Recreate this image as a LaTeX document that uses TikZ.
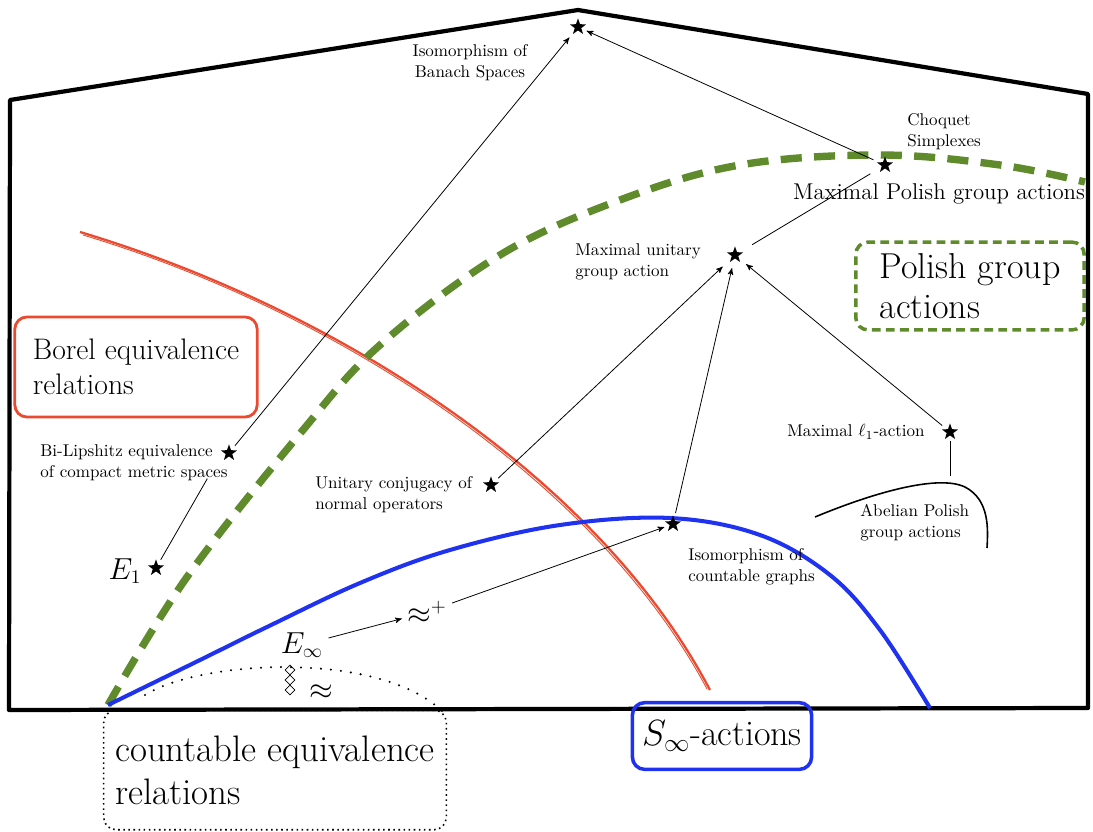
\documentclass[tikz,border=0pt]{standalone}
\usepackage{amsmath}
\usepackage{amsfonts}
\usepackage{amssymb}
\usepackage{tikz}
\usetikzlibrary{arrows,shapes.geometric}

\definecolor{vertpolonais}{RGB}{95,139,44}
\definecolor{rougeborel}{RGB}{234,74,48}
\definecolor{bleuS}{RGB}{30,50,240}

\begin{document}
\begin{tikzpicture}[x=0.02cm, y=-0.02cm,
    etoile/.style={star, star points=5, star point ratio=2.5, fill=black, inner sep=0pt, minimum size=9.8pt},
    texte/.style={font=\fontsize{9.7}{12}\selectfont, align=left, inner sep=0pt},
    formule/.style={font=\fontsize{16}{19}\selectfont, inner sep=0pt},
    boite/.style={rounded corners=7pt, align=left, font=\fontsize{20.5}{22.7}\selectfont},
    fleche/.style={-stealth', line width=0.45pt, shorten >=3pt, shorten <=3pt},
    trait/.style={line width=0.45pt, shorten >=3pt, shorten <=3pt},
    losange/.style={diamond, draw, line width=0.4pt, inner sep=0pt, minimum size=5.6pt}]
    \useasboundingbox (0,0) rectangle (1093,832);
    % Maison
    \draw[line width=2.4pt, line join=round] (10,100) -- (578,10) -- (1088,94) -- (1088,708) -- (9,710) -- cycle;
    % Courbes
    \draw[rougeborel, line width=1.3pt] (80,232) .. controls (340,310) and (600,480) .. (710,690);
    \draw[rougeborel, line width=0.5pt] (83,235) .. controls (342,313) and (598,484) .. (707,689);
    \draw[vertpolonais, line width=4.2pt, dash pattern=on 12pt off 7pt] plot[smooth, tension=0.6] coordinates {(108,705) (187,577) (303,430) (380,345) (500,255) (620,200) (740,165) (880,155) (1000,165) (1085,182)};
    \draw[bleuS, line width=2.3pt] plot[smooth, tension=0.6] coordinates {(108,705) (200,660) (267,627) (360,583) (450,550) (560,525) (670,518) (760,535) (830,575) (880,630) (930,708)};
    \draw[line width=1.3pt, line cap=round, dash pattern=on 0pt off 5.7pt] (145,695) .. controls (200,660) and (380,650) .. (443,712);
    \draw[line width=0.9pt] (815,517) .. controls (880,490) and (940,475) .. (965,487) .. controls (990,500) and (988,530) .. (987,548);
    % Sommets
    \node[etoile] at (578,27) (banach) {};
    \node[etoile] at (885,165) (choquet) {};
    \node[etoile] at (735,255) (maxunit) {};
    \node[etoile] at (950,432) (ell1) {};
    \node[etoile] at (229,453) (bilip) {};
    \node[etoile] at (156,568) (e1) {};
    \node[etoile] at (491,485) (unitconj) {};
    \node[etoile] at (673,524) (isograph) {};
    \node[losange] at (290,670) (los1) {};
    \node[losange] at (290,680) (los2) {};
    \node[losange] at (290,690) (los3) {};
    \coordinate (bilipbas) at (210,474);
    \coordinate (abelhaut) at (950,481);
    % Etiquettes
    \node[texte, align=center] at (470,63) (banacht) {Isomorphism of\\Banach Spaces};
    \node[texte, anchor=west] at (907,132) (choquett) {Choquet\\Simplexes};
    \node[texte, font=\fontsize{13}{15}\selectfont] at (939,194) (maxpolish) {Maximal Polish group actions};
    \node[texte, anchor=west] at (575,262) (maxunitt) {Maximal unitary\\group action};
    \node[texte, anchor=west] at (40,463) (bilipt) {Bi-Lipshitz equivalence\\of compact metric spaces};
    \node[texte, anchor=west] at (315,495) (unitconjt) {Unitary conjugacy of\\normal operators};
    \node[texte, anchor=west] at (787,432) (ell1t) {Maximal $\ell_1$-action};
    \node[texte, anchor=west] at (688,567) (isographt) {Isomorphism of\\countable graphs};
    \node[texte, anchor=west] at (860,523) (abelt) {Abelian Polish\\group actions};
    \node[formule] at (125,571) (e1t) {$E_1$};
    \node[formule] at (302,645) (einf) {$E_\infty$};
    \node[formule] at (427,612) (approxp) {$\approx^+$};
    \node[formule] at (321,692) (approx) {$\approx$};
    % Boites
    \node[boite, draw=rougeborel, line width=1.6pt, font=\fontsize{16.9}{19.8}\selectfont, minimum width=138pt, minimum height=57pt] at (136,367) (borel) {Borel equivalence\\relations};
    \node[boite, draw=vertpolonais, line width=2pt, dash pattern=on 5pt off 3pt, minimum width=130pt, minimum height=50pt] at (970,286) (polish) {Polish group\\actions};
    \node[boite, draw, line width=0.9pt, dotted, font=\fontsize{21}{24.4}\selectfont, minimum width=195pt, minimum height=68pt] at (275,770) (countable) {countable equivalence\\relations};
    \node[boite, draw=bleuS, line width=2pt, minimum width=102pt, minimum height=38pt] at (722,736) (sinf) {$S_\infty$-actions};
    % Aretes
    \draw[fleche] (bilip) -- (banach);
    \draw[fleche] (choquet) -- (banach);
    \draw[trait, shorten <=8pt, shorten >=7pt] (maxunit) -- (choquet);
    \draw[fleche, shorten >=6pt] (unitconj) -- (maxunit);
    \draw[fleche, shorten >=5pt] (isograph) -- (maxunit);
    \draw[fleche, shorten >=5pt] (ell1) -- (maxunit);
    \draw[trait] (e1) -- (bilipbas);
    \draw[trait] (ell1) -- (abelhaut);
    \draw[fleche] (einf) -- (approxp);
    \draw[fleche] (approxp) -- (isograph);
\end{tikzpicture}
\end{document}
